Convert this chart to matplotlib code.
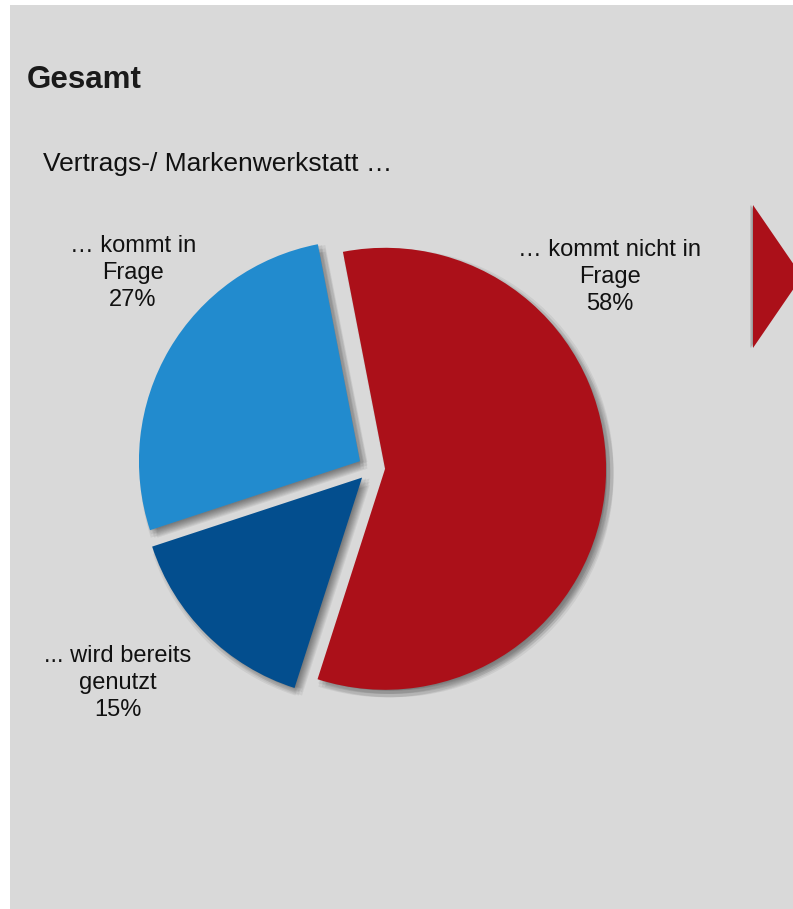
import matplotlib
matplotlib.use("Agg")
import matplotlib.pyplot as plt
from matplotlib import patheffects as pe
from matplotlib.patches import Rectangle, Polygon

# ---- data ----
categories = ["… kommt nicht in\nFrage", "... wird bereits\ngenutzt", "… kommt in\nFrage"]
values = [58, 15, 27]
colors = ["#AB1019", "#034E8E", "#228BCE"]
title = "Gesamt"
subtitle = "Vertrags-/ Markenwerkstatt …"

W, H = 793, 909
fig = plt.figure(figsize=(W / 100, H / 100), dpi=100)
fig.patch.set_facecolor("white")
ax = fig.add_axes([0, 0, 1, 1])

def py(y):
    return H - y

# gray panel
ax.add_patch(Rectangle((10, 0), W - 10, H - 5, facecolor="#D9D9D9", edgecolor="none", zorder=0))

base = "Liberation Sans"

cx, cy, R = 371.6, py(468), 221
explode = [13.5] * len(values)

# shadow pass
shadow_fx = []
for dx in (-1.5, 0, 1.5):
    for dy in (-1.5, 0, 1.5):
        shadow_fx.append(pe.SimplePatchShadow(offset=(3 + dx * 1.6, -3 + dy * 1.6),
                                              shadow_rgbFace="black", alpha=0.06))
sw, _ = ax.pie(values, colors=colors, startangle=101, counterclock=False,
               explode=explode, radius=R, center=(cx, cy),
               wedgeprops=dict(linewidth=0), frame=True)
for w in sw:
    w.set_path_effects(shadow_fx)
    w.set_zorder(1)

wedges, _ = ax.pie(values, colors=colors, startangle=101, counterclock=False,
                   explode=explode, radius=R, center=(cx, cy),
                   wedgeprops=dict(linewidth=0), frame=True)
for w in wedges:
    w.set_zorder(2)

ax.set_xlim(0, W)
ax.set_ylim(0, H)
ax.set_aspect("equal")
ax.axis("off")

# labels
total = sum(values)
label_pos = [(610, 277), (118, 683), (133, 273)]
for cat, v, (lx, ly) in zip(categories, values, label_pos):
    ax.text(lx, py(ly), f"{cat}\n{round(100 * v / total)}%", ha="center", va="center",
            fontsize=17, family=base, color="#111111", linespacing=1.3, zorder=3)

# title and subtitle
ax.text(27, py(88), title, ha="left", va="baseline", fontsize=22.5, family=base,
        fontweight="bold", color="#1a1a1a", zorder=3)
ax.text(43, py(171), subtitle, ha="left", va="baseline", fontsize=19, family=base,
        color="#111111", zorder=3)

# arrow
tri = Polygon([(753, py(205)), (753, py(348)), (802, py(276.5))], closed=True,
              facecolor="#AB1019", edgecolor="none", zorder=2)
tri.set_path_effects([pe.SimplePatchShadow(offset=(-2, 0), shadow_rgbFace="black", alpha=0.15),
                      pe.SimplePatchShadow(offset=(-1, 0), shadow_rgbFace="black", alpha=0.15),
                      pe.Normal()])
ax.add_patch(tri)

fig.savefig("out.png", dpi=100, facecolor=fig.get_facecolor())
